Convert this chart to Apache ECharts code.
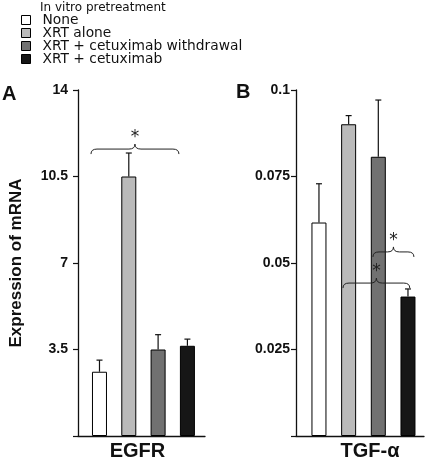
<!DOCTYPE html>
<html><head><meta charset="utf-8">
<script src="https://cdn.jsdelivr.net/npm/echarts@6/dist/echarts.min.js"></script>
<style>html,body{margin:0;padding:0;background:#fff}#c{width:425px;height:460px}</style>
</head><body><div id="c"></div>
<script>
// ---- data ----
const treatments = ['None', 'XRT alone', 'XRT + cetuximab withdrawal', 'XRT + cetuximab'];
const barColors = ['#ffffff', '#bababa', '#717171', '#161616'];
const panelNames = ['EGFR', 'TGF-α'];
const egfrMean = [2.6, 10.5, 3.5, 3.65];
const egfrUpper = [3.07, 11.45, 4.1, 3.92];
const tgfMean = [0.0617, 0.0901, 0.0807, 0.0403];
const tgfUpper = [0.0729, 0.0926, 0.0971, 0.0425];
const egfrTicks = [0, 3.5, 7, 10.5, 14];
const tgfTicks = [0, 0.025, 0.05, 0.075, 0.1];
// significance braces: [x start, x end, y level] in data units
const braceA = [[-0.29, 2.71, 11.61]];
const braceB = [[0.81, 3.06, 0.0442], [1.82, 3.2, 0.0532]];

const tickFont = "'Liberation Sans',Arial,sans-serif";
const chart = echarts.init(document.getElementById('c'));

function errItem(params, api) {
  const x = api.value(0), lo = api.value(1), hi = api.value(2);
  const a = api.coord([x, lo]), b = api.coord([x, hi]);
  const st = { stroke: '#111', lineWidth: 1.2 };
  return { type: 'group', children: [
    { type: 'line', shape: { x1: a[0], y1: a[1], x2: b[0], y2: b[1] }, style: st },
    { type: 'line', shape: { x1: b[0] - 3, y1: b[1], x2: b[0] + 3, y2: b[1] }, style: st }
  ]};
}
function braceItem(params, api) {
  const p1 = api.coord([api.value(0), api.value(2)]);
  const p2 = api.coord([api.value(1), api.value(2)]);
  const y = p1[1], xa = p1[0], xb = p2[0], xm = (xa + xb) / 2;
  const h = 5, r = 6;
  const st = { stroke: '#222', lineWidth: 1, fill: null };
  return { type: 'group', children: [
    { type: 'bezierCurve', shape: { x1: xa, y1: y + h, cpx1: xa, cpy1: y, x2: xa + r, y2: y }, style: st },
    { type: 'line', shape: { x1: xa + r, y1: y, x2: xm - r, y2: y }, style: st },
    { type: 'bezierCurve', shape: { x1: xm - r, y1: y, cpx1: xm, cpy1: y, x2: xm, y2: y - h }, style: st },
    { type: 'bezierCurve', shape: { x1: xm, y1: y - h, cpx1: xm, cpy1: y, x2: xm + r, y2: y }, style: st },
    { type: 'line', shape: { x1: xm + r, y1: y, x2: xb - r, y2: y }, style: st },
    { type: 'bezierCurve', shape: { x1: xb - r, y1: y, cpx1: xb, cpy1: y, x2: xb, y2: y + h }, style: st },
    { type: 'text', x: xm, y: y - 3, style: { text: '*', fill: '#222', font: '17px DejaVu Sans', align: 'center', verticalAlign: 'bottom' } }
  ]};
}

const series = [];
[[egfrMean, egfrUpper], [tgfMean, tgfUpper]].forEach(([mean, upper], g) => {
  treatments.forEach((name, i) => {
    series.push({
      type: 'bar', name, xAxisIndex: g, yAxisIndex: g,
      barWidth: 15, barGap: '-100%',
      data: [[i, mean[i]]],
      itemStyle: { color: barColors[i], borderColor: '#000', borderWidth: 1 }
    });
  });
  series.push({
    type: 'custom', xAxisIndex: g, yAxisIndex: g, z: 5,
    renderItem: errItem, encode: { x: 0, y: [1, 2] },
    data: mean.map((m, i) => [i, m, upper[i]])
  });
});
series.push({ type: 'custom', xAxisIndex: 0, yAxisIndex: 0, z: 6, renderItem: braceItem, encode: { x: [0, 1], y: 2 }, data: braceA });
series.push({ type: 'custom', xAxisIndex: 1, yAxisIndex: 1, z: 6, renderItem: braceItem, encode: { x: [0, 1], y: 2 }, data: braceB });

function axisLine() { return { show: true, onZero: false, lineStyle: { color: '#111', width: 1.3 } }; }
function yAxis(ticks, g, margin) {
  return {
    type: 'value', gridIndex: g, min: ticks[0], max: ticks[ticks.length - 1],
    interval: ticks[1] - ticks[0],
    axisLine: axisLine(),
    axisTick: { show: true, length: 5, lineStyle: { color: '#111', width: 1.2 } },
    splitLine: { show: false },
    axisLabel: { margin, color: '#111', fontFamily: tickFont, fontWeight: 'bold', fontSize: 14,
      formatter: v => v === 0 ? '' : String(v) },
    name: g === 0 ? 'Expression of mRNA' : '', nameLocation: 'middle', nameGap: 53,
    nameTextStyle: { fontFamily: 'Liberation Sans', fontWeight: 'bold', fontSize: 17, color: '#111' }
  };
}
function xAxis(g, min, max, pad) {
  return {
    type: 'value', gridIndex: g, min, max,
    axisLine: axisLine(), axisTick: { show: false }, axisLabel: { show: false }, splitLine: { show: false },
    name: panelNames[g], nameLocation: 'middle', nameGap: 5,
    nameTextStyle: { fontFamily: 'Liberation Sans', fontWeight: 'bold', fontSize: 20, color: '#111', padding: pad, verticalAlign: 'top' }
  };
}

chart.setOption({
  animation: false,
  backgroundColor: '#fff',
  title: [
    { text: 'In vitro pretreatment', left: 35, top: -3, textStyle: { fontFamily: 'DejaVu Sans', fontWeight: 'normal', fontSize: 12, color: '#111' } },
    { text: 'A', left: -3, top: 79, textStyle: { fontFamily: 'Liberation Sans', fontWeight: 'bold', fontSize: 20, color: '#111' } },
    { text: 'B', left: 231, top: 77, textStyle: { fontFamily: 'Liberation Sans', fontWeight: 'bold', fontSize: 20, color: '#111' } }
  ],
  legend: {
    data: treatments, orient: 'vertical', left: 21, top: 13,
    icon: 'rect', itemWidth: 9, itemHeight: 9, itemGap: -1, padding: 0,
    itemStyle: { borderColor: '#000', borderWidth: 1 },
    textStyle: { fontFamily: 'DejaVu Sans', fontSize: 13.8, color: '#111', padding: [0, 0, 0, 7] }
  },
  grid: [
    { left: 78, top: 90, width: 127, height: 346, outerBoundsMode: 'none', containLabel: false },
    { left: 296, top: 90, width: 128, height: 346, outerBoundsMode: 'none', containLabel: false }
  ],
  xAxis: [xAxis(0, -0.733, 3.6, [0, 8, 0, 0]), xAxis(1, -0.774, 3.54, [0, 0, 0, 20])],
  yAxis: [yAxis(egfrTicks, 0, 10), yAxis(tgfTicks, 1, 6)],
  series
});
</script></body></html>
